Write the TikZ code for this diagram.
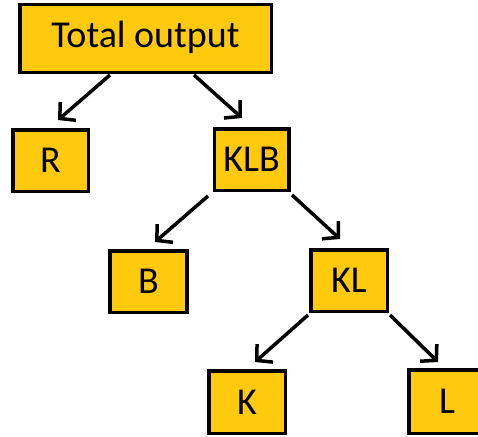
\documentclass[tikz,border=0pt]{standalone}
\usepackage{fontspec}
\setmainfont{Carlito}
\definecolor{boxfill}{RGB}{255, 201, 14}
\usetikzlibrary{arrows.meta, positioning, calc}

\begin{document}
\begin{tikzpicture}[x=1pt, y=-1pt,
    treebox/.style={draw=black, fill=boxfill, line width=3.5pt,
        font=\fontsize{38pt}{40pt}\selectfont,
        text height=24.5pt, text depth=0pt, inner sep=0pt},
    branch/.style={line width=3.5pt, -{Straight Barb[length=11pt, width=24pt, line width=3.5pt]}}]
    \useasboundingbox (0,0) rectangle (478,436);

    % Boxes
    \node[treebox, minimum width=251.5pt, minimum height=67.5pt, text depth=6pt] (total) at (145.5,38.5) {Total output};
    \node[treebox, minimum width=75.5pt, minimum height=61.5pt] (R) at (50.5,160.5) {R};
    \node[treebox, minimum width=74.5pt, minimum height=61.5pt] (KLB) at (251.5,159.5) {KLB};
    \node[treebox, minimum width=77pt, minimum height=61.5pt] (B) at (148.5,281.5) {B};
    \node[treebox, minimum width=76.5pt, minimum height=61.5pt] (KL) at (349,280.5) {KL};
    \node[treebox, minimum width=76.5pt, minimum height=62.5pt] (K) at (247,402) {K};
    \node[treebox, minimum width=76.5pt, minimum height=63.5pt] (L) at (447,401.5) {L};

    % Branches
    \draw[branch] ($(total.south)+(-35.5,1)$) -- ($(R.north)+(7.5,-8)$);
    \draw[branch] ($(total.south)+(48.5,1)$) -- ($(KLB.north)+(-9.5,-9)$);
    \draw[branch] ($(KLB.south)+(-43.5,4)$) -- ($(B.north)+(6.5,-7)$);
    \draw[branch] ($(KLB.south)+(40.5,3)$) -- ($(KL.north)+(-9,-9)$);
    \draw[branch] ($(KL.south)+(-41,2)$) -- ($(K.north)+(8,-7)$);
    \draw[branch] ($(KL.south)+(41,2)$) -- ($(L.north)+(-9,-6)$);
\end{tikzpicture}
\end{document}
